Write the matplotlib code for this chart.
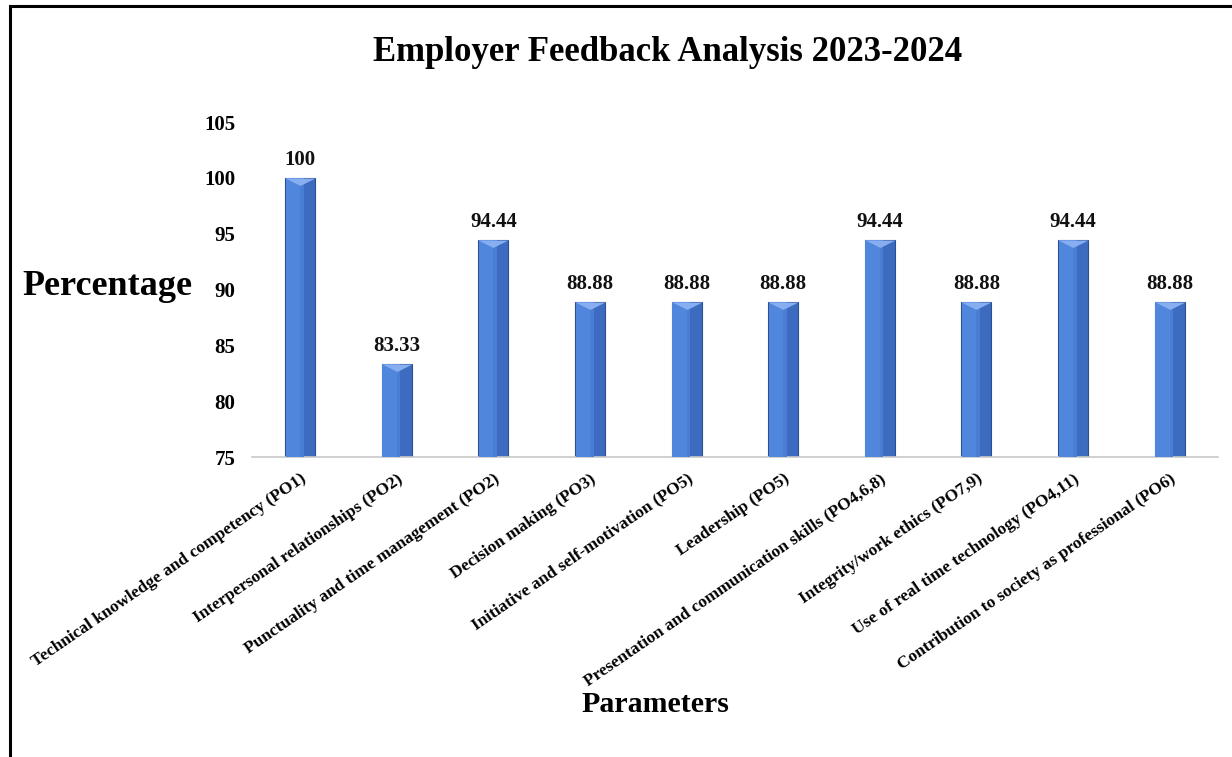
import matplotlib.pyplot as plt
from matplotlib.patches import Rectangle
from matplotlib.path import Path

# Employer feedback percentages per parameter
parameters = [
    'Technical knowledge and competency (PO1)',
    'Interpersonal relationships (PO2)',
    'Punctuality and time management (PO2)',
    'Decision making (PO3)',
    'Initiative and self-motivation (PO5)',
    'Leadership (PO5)',
    'Presentation and communication skills (PO4,6,8)',
    'Integrity/work ethics (PO7,9)',
    'Use of real time technology (PO4,11)',
    'Contribution to society as professional (PO6)',
]
percentages = [100, 83.33, 94.44, 88.88, 88.88, 88.88, 94.44, 88.88, 94.44, 88.88]
value_labels = ['100', '83.33', '94.44', '88.88', '88.88', '88.88', '94.44', '88.88', '94.44', '88.88']
y_ticks = [75, 80, 85, 90, 95, 100, 105]

SERIF = ['Liberation Serif', 'DejaVu Serif']

fig = plt.figure(figsize=(12.32, 7.57), dpi=100)
ax = fig.add_axes([0.2045, 0.3963, 0.7841, 0.4425])

x = list(range(len(parameters)))
width = 0.31

# bar body with a little shading to fake the 3d look
ax.bar(x, [p - 75 for p in percentages], width=width, bottom=75,
       color='#3d6bc0', edgecolor='#2c4f94', linewidth=0.8, zorder=2)
ax.bar([i - width * 0.22 for i in x], [p - 75 for p in percentages], width=width * 0.52,
       bottom=75, color='#5086dc', linewidth=0, zorder=3)
ax.bar([i + width * 0.06 for i in x], [p - 75 for p in percentages], width=width * 0.12,
       bottom=75, color='#4a7dd4', linewidth=0, zorder=3)

# light chevron at the top of each bar
chevron = Path([(-1, 0), (1, 0), (0, -0.5), (-1, 0)],
               [Path.MOVETO, Path.LINETO, Path.LINETO, Path.CLOSEPOLY])
ax.plot(x, percentages, linestyle='none', marker=chevron, markersize=21.5,
        markerfacecolor='#86aef0', markeredgewidth=0, zorder=4)

for xi, p, lab in zip(x, percentages, value_labels):
    ax.annotate(lab, (xi, p), xytext=(0, 6), textcoords='offset points',
                ha='center', va='bottom', fontsize=15, fontweight='bold',
                family=SERIF, color='#111111')

ax.set_xlim(-0.5, len(parameters) - 0.5)
ax.set_ylim(75, 105)
ax.set_yticks(y_ticks)
ax.set_yticklabels([str(t) for t in y_ticks], fontsize=15, fontweight='bold', family=SERIF)
ax.set_xticks(x)
ax.set_xticklabels(parameters, rotation=34.5, ha='right', rotation_mode='anchor',
                   fontsize=12.5, fontweight='bold', family=SERIF)
ax.tick_params(axis='y', length=0, pad=12)
ax.tick_params(axis='x', length=0, pad=10)

for side in ['top', 'right', 'left']:
    ax.spines[side].set_visible(False)
ax.spines['bottom'].set_color('#c8c8c8')
ax.spines['bottom'].set_linewidth(1.2)

fig.text(0.542, 0.931, 'Employer Feedback Analysis 2023-2024', ha='center', va='center',
         fontsize=25, fontweight='bold', family=SERIF)
fig.text(0.018, 0.621, 'Percentage', ha='left', va='center',
         fontsize=26, fontweight='bold', family=SERIF)
fig.text(0.532, 0.069, 'Parameters', ha='center', va='center',
         fontsize=21.5, fontweight='bold', family=SERIF)

# outer frame, cut off at the right and bottom like the screenshot
fig.patches.append(Rectangle((0.008, -0.05), 1.1, 1.042, transform=fig.transFigure,
                             fill=False, edgecolor='black', linewidth=2.2))

fig.savefig('out.png', dpi=100)
